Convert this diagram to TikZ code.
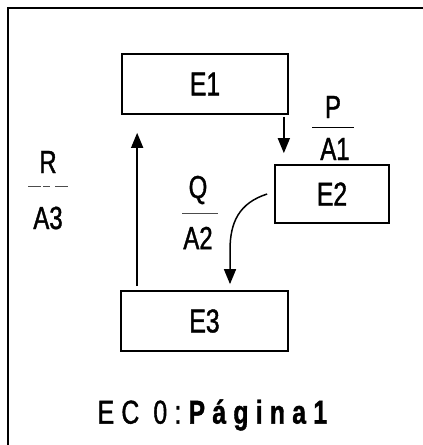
\documentclass[tikz,border=0pt]{standalone}
\usepackage{fontspec}
\setmainfont{Liberation Sans}[FakeStretch=0.75,FakeBold=1.2]
\newfontfamily\spaced{Liberation Sans}[FakeStretch=0.75,FakeBold=1.2,LetterSpace=22]
\usetikzlibrary{arrows.meta}
\begin{document}
\begin{tikzpicture}[x=1pt,y=-1pt,
  state/.style={draw,line width=1.7pt,inner sep=0pt,font=\fontsize{33}{35}\selectfont},
  lbl/.style={inner sep=0pt,font=\fontsize{32}{34}\selectfont},
  arr/.style={line width=1.5pt,-{Triangle[length=15pt,width=12pt]}},
  bar/.style={line width=0.8pt,draw=black!70}]
\useasboundingbox (0,0) rectangle (423,445);
% outer frame (left and top edges)
\draw[line width=2pt] (7.5,445) -- (7.5,8) -- (423,8);
% states
\node[state,minimum width=166pt,minimum height=60pt] (E1) at (205,84) {E1};
\node[state,minimum width=114pt,minimum height=58pt] (E2) at (332,194) {E2};
\node[state,minimum width=167pt,minimum height=60pt] (E3) at (204.5,321) {E3};
% transitions
\draw[arr,shorten <=2pt,shorten >=11pt] ([xshift=-5pt]E1.south east) -- ([xshift=-5pt]E1.south east |- E2.north);
\draw[arr,shorten <=4pt,shorten >=18pt] ([xshift=17pt]E3.north west) -- ([xshift=17pt]E3.north west |- E1.south);
\draw[arr,shorten >=6pt] ([xshift=-7pt]E2.west) .. controls +(-28,9) and +(0,-28) .. ([xshift=25.5pt,yshift=40pt]E3.north) -- ([xshift=25.5pt]E3.north);
% transition labels
\node[lbl] (P) at (333,107) {P};
\node[lbl] (A1) at (335,149) {A1};
\draw[line width=1pt] (312,127) -- (354,127);
\node[lbl] (Q) at (198,190) {Q};
\node[lbl] (A2) at (198,238) {A2};
\draw[bar] (182,213) -- (218,213);
\node[lbl] (R) at (48,162) {R};
\node[lbl] (A3) at (48,218) {A3};
\draw[bar,dash pattern=on 13pt off 2pt on 7pt off 5pt] (28,186) -- (69,186);
% caption
\node[inner sep=0pt,font=\fontsize{33}{35}\selectfont\spaced] (cap) at (216,415) {EC 0:\textbf{Página1}};
\end{tikzpicture}
\end{document}
